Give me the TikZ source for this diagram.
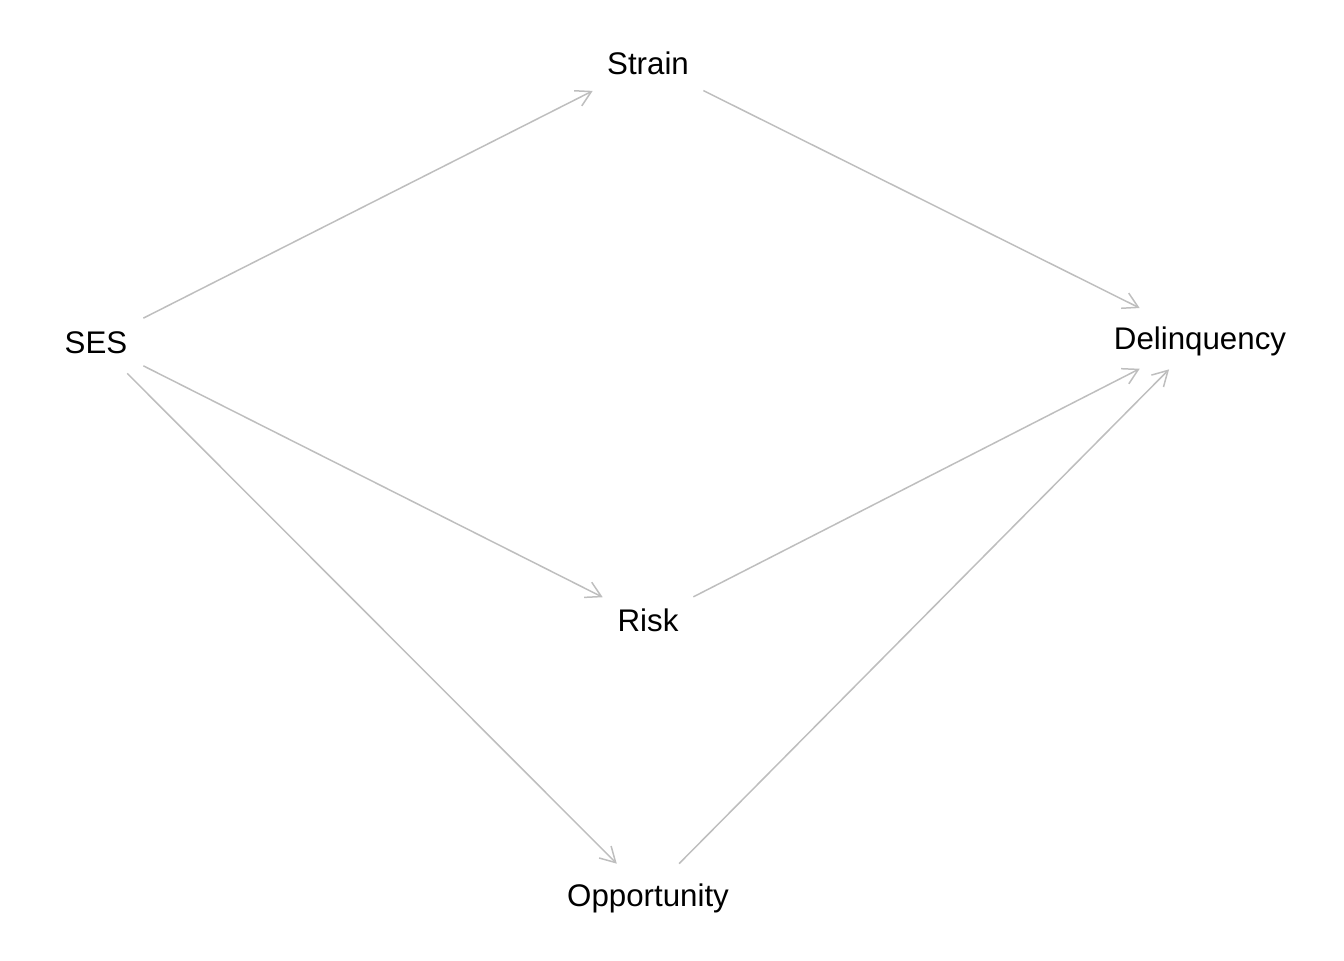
\documentclass[tikz,border=0pt]{standalone}
\usepackage{fontspec}
\setmainfont{Liberation Sans}
\usetikzlibrary{arrows.meta}

\begin{document}
\begin{tikzpicture}[x=0.02cm,y=-0.02cm,
  every node/.style={font=\fontsize{17.8}{21}\selectfont,inner sep=0pt,
    minimum height=1.24cm,text height=0.45cm,text depth=0pt},
  dagedge/.style={draw={rgb,255:red,190;green,190;blue,190},line width=0.85pt,
    -{Straight Barb[length=0.3cm,width=0.34cm]}}]

\useasboundingbox (0,0) rectangle (1344,960);

\node[minimum width=1.88cm] (ses) at (96,342) {\makebox[0pt]{SES}};
\node[minimum width=2.2cm] (strain) at (648,63) {\makebox[0pt]{Strain}};
\node[minimum width=1.8cm] (risk) at (648,620) {\makebox[0pt]{Risk}};
\node[minimum width=1.6cm] (opp) at (648,895) {\makebox[0pt]{Opportunity}};
\node[minimum width=2.4cm] (delinq) at (1200,338) {\makebox[0pt]{Delinquency}};

\foreach \i/\j in {ses/strain, ses/risk, ses/opp,%
            strain/delinq, risk/delinq, opp/delinq%
            }
    \draw[dagedge] (\i) -- (\j);

\end{tikzpicture}
\end{document}
